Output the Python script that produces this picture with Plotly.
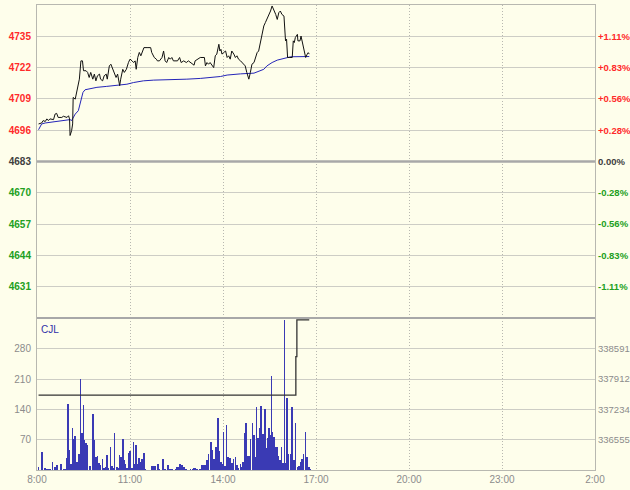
import plotly.graph_objects as go

# ---------------- data (minutes after 08:00) ----------------
BASE = 4683  # previous close / reference price

price_min = [3, 9, 12, 16, 19, 22, 25, 32, 35, 38, 41, 48, 51, 58, 61, 63, 64, 67, 69, 70, 74, 76, 78, 82,
             85, 88, 90, 95, 98, 101, 104, 108, 111, 114, 117, 121, 123, 127, 130, 134, 136, 140, 143, 147,
             149, 153, 156, 160, 162, 166, 169, 173, 177, 180, 184, 187, 190, 192, 195, 198, 201, 205, 207,
             213, 220, 222, 227, 231, 233, 237, 242, 245, 248, 251, 255, 258, 261, 264, 268, 272, 276, 279,
             284, 289, 293, 300, 304, 306, 310, 316, 324, 326, 329, 332, 335, 339, 342, 345, 348, 352, 354,
             356, 358, 361, 365, 368, 371, 374, 377, 381, 384, 387, 390, 394, 397, 400, 403, 406, 408, 410,
             413, 416, 420, 423, 426, 429, 432, 436, 439, 442, 445, 449, 452, 455, 458, 462, 465, 468, 471,
             474, 478, 481, 483, 485, 488, 491, 494, 496, 498, 500, 504, 505, 509, 511, 514, 516, 518, 520,
             523, 525, 527]
price_val = [4698.6, 4699.0, 4700.0, 4699.6, 4700.7, 4700.0, 4700.7, 4700.4, 4702.7, 4703.0, 4701.3, 4701.3,
             4701.8, 4701.3, 4702.0, 4700.7, 4693.8, 4695.8, 4698.6, 4709.6, 4708.9, 4711.0, 4713.1, 4717.2,
             4724.8, 4724.8, 4720.7, 4720.7, 4720.0, 4717.9, 4720.0, 4717.2, 4719.3, 4716.5, 4718.6, 4719.3,
             4717.2, 4716.5, 4718.6, 4719.3, 4717.2, 4722.7, 4723.4, 4721.3, 4720.7, 4717.9, 4719.3, 4714.5,
             4717.2, 4721.3, 4720.0, 4721.3, 4724.1, 4725.5, 4724.8, 4724.1, 4724.8, 4721.3, 4726.2, 4728.3,
             4726.9, 4728.9, 4730.3, 4730.3, 4730.3, 4728.3, 4726.2, 4725.5, 4724.8, 4724.8, 4726.2, 4728.9,
             4724.8, 4724.1, 4726.2, 4725.5, 4726.2, 4724.8, 4724.8, 4724.8, 4726.2, 4724.1, 4724.8, 4724.1,
             4724.8, 4723.8, 4723.0, 4724.8, 4725.5, 4726.2, 4726.2, 4722.7, 4724.1, 4723.4, 4724.1, 4722.7,
             4722.0, 4726.9, 4727.6, 4731.7, 4728.9, 4729.6, 4727.6, 4728.2, 4728.9, 4726.2, 4726.9, 4725.5,
             4728.9, 4727.6, 4726.2, 4726.9, 4725.5, 4724.8, 4724.1, 4723.4, 4722.7, 4720.0, 4717.9, 4717.2,
             4720.0, 4723.4, 4724.1, 4726.2, 4728.2, 4728.9, 4732.4, 4736.5, 4739.3, 4740.7, 4742.0, 4744.1,
             4745.5, 4747.6, 4746.2, 4744.1, 4742.0, 4744.8, 4745.5, 4744.1, 4743.4, 4733.1, 4733.8, 4726.2,
             4726.2, 4726.2, 4726.2, 4733.1, 4732.4, 4734.5, 4735.8, 4733.1, 4733.1, 4735.1, 4732.4, 4731.0,
             4728.9, 4726.2, 4727.6, 4728.2, 4727.6]

avg_min = [3, 6, 9, 16, 25, 38, 58, 64, 67, 74, 80, 85, 89, 93, 103, 116, 135, 161, 174, 187, 206, 226,
           251, 290, 316, 342, 355, 368, 381, 394, 420, 432, 439, 445, 455, 465, 478, 484, 491, 527]
avg_val = [4696.2, 4697.2, 4698.6, 4699.0, 4699.3, 4699.7, 4700.4, 4700.4, 4700.0, 4702.7, 4704.1, 4708.2,
           4711.7, 4712.8, 4713.3, 4713.8, 4714.2, 4714.7, 4715.1, 4715.8, 4716.5, 4716.8, 4716.9, 4717.2,
           4717.5, 4717.9, 4718.3, 4718.9, 4719.2, 4719.4, 4719.7, 4720.7, 4721.3, 4722.7, 4724.1, 4725.1,
           4725.8, 4726.2, 4726.5, 4726.6]

vol_min = [3, 10, 16, 19, 22, 25, 30, 35, 39, 46, 51, 54, 58, 60, 63, 66, 69, 72, 74, 78, 81, 84, 87, 90,
           92, 95, 98, 102, 108, 111, 114, 117, 120, 123, 127, 130, 133, 135, 138, 142, 145, 148, 150, 155,
           158, 160, 162, 166, 168, 171, 174, 177, 180, 184, 187, 189, 192, 195, 197, 200, 203, 207, 210,
           222, 226, 229, 234, 237, 244, 248, 253, 257, 261, 268, 271, 275, 277, 281, 284, 289, 297, 301,
           303, 306, 310, 315, 319, 323, 325, 329, 332, 337, 340, 343, 346, 350, 352, 356, 359, 361, 364,
           367, 370, 374, 377, 380, 384, 387, 390, 394, 397, 399, 403, 405, 408, 410, 413, 417, 420, 422,
           425, 428, 431, 434, 436, 438, 441, 443, 447, 449, 452, 454, 456, 459, 462, 465, 467, 470, 473,
           476, 479, 482, 484, 487, 491, 493, 497, 500, 504, 507, 510, 513, 516, 520, 523, 526, 529]
vol_val = [8, 42, 4, 2, 2, 2, 18, 8, 12, 15, 2, 2, 27, 152, 46, 15, 98, 71, 79, 19, 38, 210, 85, 150,
           69, 62, 58, 9, 129, 69, 31, 32, 17, 12, 25, 4, 8, 34, 4, 52, 9, 4, 86, 8,
           4, 34, 29, 71, 23, 14, 4, 40, 45, 4, 64, 15, 58, 15, 27, 19, 25, 40, 2,
           9, 9, 9, 14, 2, 26, 2, 12, 2, 2, 2, 6, 8, 15, 11, 8, 2, 2, 2,
           4, 5, 2, 2, 11, 11, 12, 22, 38, 64, 46, 25, 52, 119, 43, 19, 14, 88, 9,
           103, 31, 27, 17, 25, 31, 12, 4, 15, 8, 19, 85, 108, 33, 33, 72, 108, 81, 31,
           145, 75, 96, 148, 68, 83, 140, 50, 73, 96, 80, 216, 88, 77, 54, 54, 33, 23, 54,
           17, 347, 17, 166, 38, 38, 145, 23, 108, 8, 9, 19, 25, 38, 87, 31, 8, 2]

oi_min = [3, 501, 503, 527]
oi_val = [337554, 338417, 339237, 339237]

x_tickvals = [0, 180, 360, 540, 720, 900, 1080]
x_ticktext = ["8:00", "11:00", "14:00", "17:00", "20:00", "23:00", "2:00"]

price_ticks = [4631, 4644, 4657, 4670, 4683, 4696, 4709, 4722, 4735]
pct_text = ["-1.11%", "-0.83%", "-0.56%", "-0.28%", "0.00%", "+0.28%", "+0.56%", "+0.83%", "+1.11%"]

vol_ticks = [70, 140, 210, 280]
oi_ticks = [336555, 337234, 337912, 338591]
oi_text = ["336555", "337234", "337912", "338591"]

# ---------------- styling ----------------
BG = "#FEFEEB"
GRID = "#CDCDC5"
RED = "#FF2A2A"
GREEN = "#22A022"
DARK = "#404040"
FONT = "Liberation Sans"


def colored(labels, values):
    out = []
    for lab, v in zip(labels, values):
        c = RED if v > BASE else (GREEN if v < BASE else DARK)
        out.append(f"<span style='color:{c}'><b>{lab}</b></span>")
    return out


left_text = colored([str(t) for t in price_ticks], price_ticks)
right_text = colored(pct_text, price_ticks)

fig = go.Figure()

fig.add_trace(go.Scatter(x=avg_min, y=avg_val, mode="lines", line=dict(color="#2424B8", width=1),
                         xaxis="x2", yaxis="y", hoverinfo="skip"))
fig.add_trace(go.Scatter(x=price_min, y=price_val, mode="lines", line=dict(color="#111111", width=1),
                         xaxis="x2", yaxis="y", hoverinfo="skip"))
# invisible trace to carry the percentage axis
fig.add_trace(go.Scatter(x=price_min, y=price_val, mode="lines", line=dict(width=0), opacity=0,
                         xaxis="x2", yaxis="y3", hoverinfo="skip"))

fig.add_trace(go.Bar(x=vol_min, y=vol_val, width=1.3, marker=dict(color="#3A3AB4", line=dict(width=0)),
                     xaxis="x", yaxis="y2", hoverinfo="skip"))
fig.add_trace(go.Scatter(x=oi_min, y=oi_val, mode="lines", line=dict(color="#333333", width=1.3, shape="hv"),
                         xaxis="x", yaxis="y4", hoverinfo="skip"))

split = 152 / 465
DOT = "1px,2px"

fig.update_layout(
    width=630, height=490,
    margin=dict(l=37, r=35, t=5, b=20, autoexpand=False),
    paper_bgcolor=BG, plot_bgcolor=BG,
    showlegend=False,
    bargap=0,
    font=dict(family=FONT, size=10, color="#808080"),
    xaxis=dict(domain=[0, 1], anchor="y2", range=[0, 1080], tickmode="array", automargin=False,
               tickvals=x_tickvals, ticktext=x_ticktext, showgrid=True, gridcolor="#B8B8B0", griddash=DOT,
               gridwidth=1, showline=True, linecolor="#B8B8B0", linewidth=1, mirror=True,
               ticks="", tickfont=dict(size=10, color="#8C8C8C", family=FONT), zeroline=False),
    xaxis2=dict(domain=[0, 1], anchor="y", matches="x", range=[0, 1080], tickmode="array", automargin=False,
                tickvals=x_tickvals, showticklabels=False, showgrid=True, gridcolor="#B8B8B0", griddash=DOT,
                showline=True, linecolor="#B8B8B0", linewidth=1, mirror=True, ticks="", zeroline=False),
    yaxis=dict(domain=[split, 1], anchor="x2", range=[4618, 4748], tickmode="array", automargin=False,
               tickvals=price_ticks, ticktext=left_text, showgrid=True, gridcolor=GRID, gridwidth=1,
               showline=True, linecolor="#B8B8B0", mirror=True, ticks="", zeroline=False,
               tickfont=dict(size=10, family=FONT), ticklabelstandoff=3),
    yaxis3=dict(overlaying="y", side="right", anchor="x2", range=[4618, 4748], tickmode="array",
                automargin=False,
                tickvals=price_ticks, ticktext=right_text, showgrid=False, ticks="", zeroline=False,
                showline=False, tickfont=dict(size=9.5, family=FONT), ticklabelstandoff=2),
    yaxis2=dict(domain=[0, split], anchor="x", range=[0, 351], tickmode="array", automargin=False,
                tickvals=vol_ticks, showgrid=True, gridcolor=GRID, showline=True, linecolor="#B8B8B0",
                mirror=True, ticks="", zeroline=False,
                tickfont=dict(size=10, color="#8C8C8C", family=FONT), ticklabelstandoff=3),
    yaxis4=dict(overlaying="y2", side="right", anchor="x", range=[335876, 339281], tickmode="array",
                automargin=False,
                tickvals=oi_ticks, ticktext=oi_text, showgrid=False, ticks="", zeroline=False, showline=False,
                tickfont=dict(size=9.5, color="#8C8C8C", family=FONT), ticklabelstandoff=2),
    shapes=[
        dict(type="line", xref="x2", yref="y", x0=0, x1=1080, y0=BASE, y1=BASE,
             line=dict(color="#A8A8A8", width=2.5)),
        dict(type="line", xref="paper", yref="paper", x0=0, x1=1, y0=split, y1=split,
             line=dict(color="#A8A8A8", width=2)),
    ],
    annotations=[
        dict(text="CJL", xref="paper", yref="paper", x=0.004, y=split - 0.008, xanchor="left",
             yanchor="top", showarrow=False, font=dict(size=10, color="#3030A8", family=FONT)),
    ],
)

fig.write_html("out.html", config={"displayModeBar": False},
               post_script="document.body.style.margin='0';document.body.style.background='" + BG + "';")
